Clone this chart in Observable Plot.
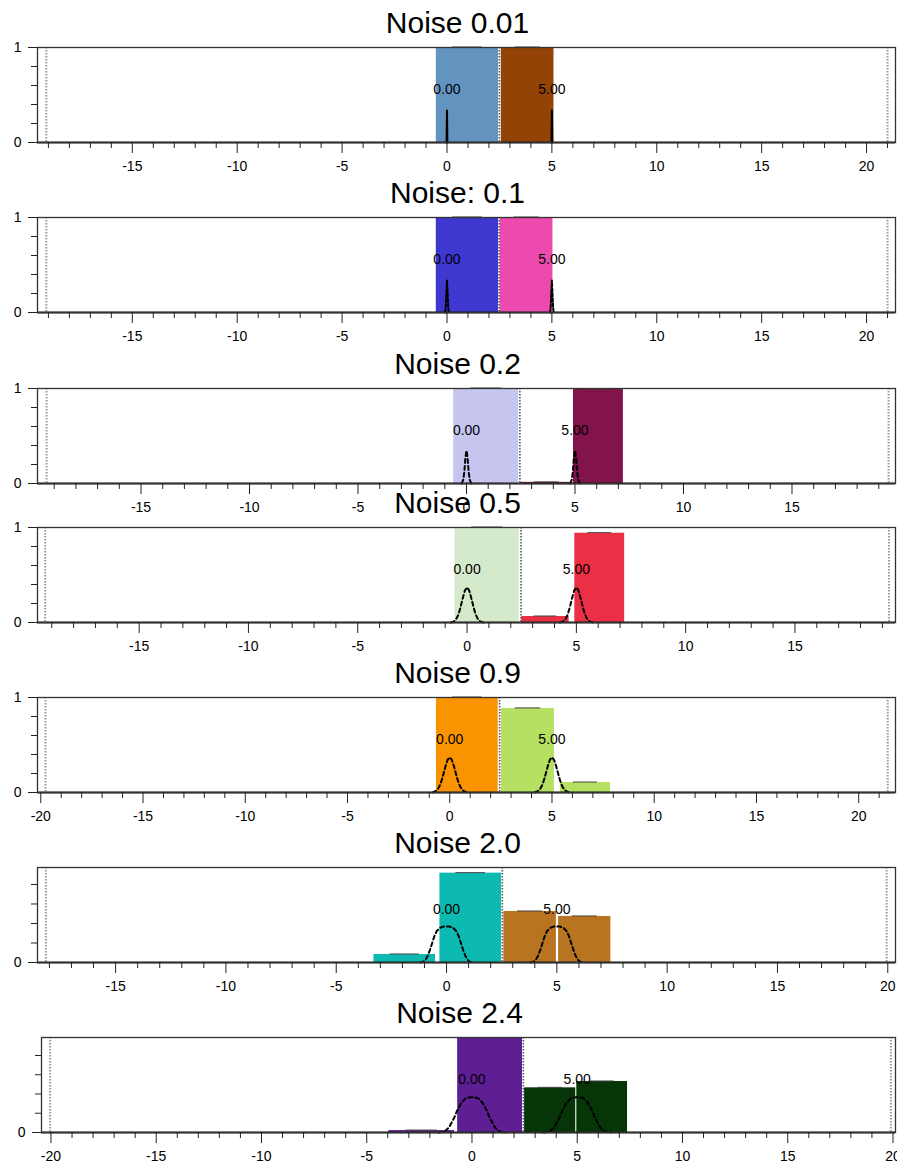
<!DOCTYPE html>
<html><head><meta charset="utf-8">
<script src="https://cdn.jsdelivr.net/npm/d3@7"></script>
<script src="https://cdn.jsdelivr.net/npm/@observablehq/plot@0.6"></script>
<style>
body{margin:0;background:#fff;}
#chart{position:relative;width:897px;height:1167px;font-family:"Liberation Sans",Arial,Helvetica,sans-serif;}
#chart svg{position:absolute;left:0;overflow:visible;background:transparent;}
</style></head><body><div id="chart"></div>
<script>
// ---------- data ----------
const titles = ["Noise 0.01", "Noise: 0.1", "Noise 0.2", "Noise 0.5", "Noise 0.9", "Noise 2.0", "Noise 2.4"];
const xDomains = [[-19.52, 21.38], [-19.52, 21.38], [-19.77, 19.77], [-19.65, 19.6], [-20.16, 21.8], [-18.54, 20.35], [-20.45, 20.12]];
const yMaxes = [1, 1, 1, 1, 1, 0.974, 0.987];
const majorXTicks = [
  [-15, -10, -5, 0, 5, 10, 15, 20],
  [-15, -10, -5, 0, 5, 10, 15, 20],
  [-15, -10, -5, 0, 5, 10, 15],
  [-15, -10, -5, 0, 5, 10, 15],
  [-20, -15, -10, -5, 0, 5, 10, 15, 20],
  [-15, -10, -5, 0, 5, 10, 15, 20],
  [-20, -15, -10, -5, 0, 5, 10, 15, 20]
];
const yMajorTicks = [[0, 1], [0, 1], [0, 1], [0, 1], [0, 1], [0], [0]];
const yMinorTicks = [0.2, 0.4, 0.6, 0.8];
const thresholds = [2.5, 2.49, 2.46, 2.47, 2.44, 2.53, 2.44];
const edgeLines = [[-19.1, 21.0], [-19.1, 21.0], [-19.35, 19.45], [-19.3, 19.3], [-19.77, 21.42], [-18.16, 19.95], [-20.04, 19.9]];

// bars: [x1, x2, fraction, class]
const bars001 = [[-0.51, 2.46, 1.0, 0], [2.59, 5.1, 1.0, 1]];
const bars01 = [[-0.51, 2.46, 1.0, 0], [2.54, 5.05, 1.0, 1]];
const bars02 = [[-0.59, 2.4, 1.0, 0], [2.5, 4.88, 0.012, 1], [4.93, 7.23, 0.99, 1]];
const bars05 = [[-0.55, 2.39, 1.0, 0], [2.5, 4.67, 0.063, 1], [4.93, 7.21, 0.94, 1]];
const bars09 = [[-0.65, 2.37, 1.0, 0], [2.53, 5.12, 0.885, 1], [5.41, 7.86, 0.105, 1]];
const bars20 = [[-3.29, -0.5, 0.082, 0], [-0.3, 2.49, 0.916, 0], [2.6, 4.98, 0.523, 1], [5.08, 7.45, 0.472, 1]];
const bars24 = [[-3.95, -0.83, 0.02, 0], [-0.68, 2.4, 0.98, 0], [2.5, 4.93, 0.464, 1], [4.98, 7.39, 0.53, 1]];
const barsByPanel = [bars001, bars01, bars02, bars05, bars09, bars20, bars24];

// half profiles of the dashed peaks: [offset from centre, height]
const peak001 = [[0, 0.337], [0.02, 0]];
const peak01 = [[0, 0.337], [0.03, 0.2], [0.06, 0.05], [0.09, 0]];
const peak02 = [[0, 0.347], [0.05, 0.27], [0.1, 0.12], [0.15, 0.04], [0.22, 0]];
const peak05 = [[0, 0.37], [0.1, 0.336], [0.2, 0.253], [0.3, 0.158], [0.4, 0.081], [0.5, 0.035], [0.6, 0.012], [0.75, 0]];
const peak09 = [[0, 0.37], [0.1, 0.345], [0.2, 0.281], [0.3, 0.2], [0.4, 0.124], [0.5, 0.067], [0.6, 0.031], [0.7, 0.013], [0.85, 0]];
const peak20 = [[0, 0.37], [0.15, 0.368], [0.3, 0.355], [0.45, 0.32], [0.55, 0.27], [0.65, 0.2], [0.75, 0.13], [0.85, 0.07], [0.95, 0.03], [1.05, 0.008], [1.2, 0]];
const peak24 = [[0, 0.366], [0.15, 0.364], [0.3, 0.355], [0.5, 0.31], [0.7, 0.23], [0.85, 0.15], [0.95, 0.11], [1.1, 0.05], [1.25, 0.02], [1.4, 0.005], [1.6, 0]];
const peaksByPanel = [peak001, peak01, peak02, peak05, peak09, peak20, peak24];
const peakCenters = [0, 5];
const peakLabels = ["0.00", "5.00"];

// ---------- styles / layout ----------
const barColors = [
  ["#6394bf", "#934305"],
  ["#3e37d0", "#ec4aae"],
  ["#c6c5f0", "#83134b"],
  ["#d4eacb", "#eb2f44"],
  ["#fa9300", "#b5e061"],
  ["#0cbab1", "#b97422"],
  ["#5e1e94", "#063607"]
];
const curveDash = ["none", "3,2", "4,3", "4,3", "4,3", "4,3", "4,3"];
const plotTops = [47, 217, 388, 527, 697, 867, 1037];
const plotLefts = [37, 37, 37, 37, 37, 37, 41];
const plotRight = 895, plotH = 95, mTop = 47, mBottom = 30, W = 897;
const font = '"Liberation Sans", Arial, Helvetica, sans-serif';

const chart = document.getElementById("chart");

titles.forEach((title, i) => {
  const [xmin, xmax] = xDomains[i];
  const barData = barsByPanel[i].map(([x1, x2, v, cls]) => ({x1, x2, v, cls}));
  const half = peaksByPanel[i];
  const profile = [...half.slice(1).reverse().map(([dx, y]) => [-dx, y]), ...half];
  const curveData = peakCenters.flatMap(c => profile.map(([dx, y]) => ({x: c + dx, y, c})));
  const minorX = d3.range(Math.ceil(xmin), Math.floor(xmax) + 1).filter(v => v % 5 !== 0);

  const svg = Plot.plot({
    width: W,
    height: mTop + plotH + mBottom,
    marginTop: mTop,
    marginBottom: mBottom,
    marginLeft: plotLefts[i],
    marginRight: W - plotRight,
    x: {domain: [xmin, xmax], axis: null},
    y: {domain: [0, yMaxes[i]], axis: null},
    color: {type: "identity"},
    style: {fontFamily: font, fontSize: "14px", background: "transparent", overflow: "visible", color: "black"},
    marks: [
      Plot.rectY(barData, {x1: "x1", x2: "x2", y: "v", fill: d => barColors[i][d.cls]}),
      Plot.ruleY(barData, {y: "v", x1: d => d.x1 + 0.26 * (d.x2 - d.x1), x2: d => d.x2 - 0.26 * (d.x2 - d.x1), stroke: "#444", strokeWidth: 1, dy: -0.5}),
      Plot.ruleX(edgeLines[i], {stroke: "#999", strokeWidth: 2, strokeDasharray: "1.5,1.5"}),
      Plot.ruleX([thresholds[i]], {stroke: "#555", strokeWidth: 1.6, strokeDasharray: "1.5,1.5"}),
      Plot.line(curveData, {x: "x", y: "y", z: "c", stroke: "black", strokeWidth: 2, strokeDasharray: curveDash[i]}),
      Plot.text(peakCenters, {x: d => d, text: (d, j) => peakLabels[j], frameAnchor: "bottom", dy: -49, fontSize: 14, fill: "black"}),
      Plot.ruleY([0], {stroke: "#222", strokeWidth: 1.8}),
      Plot.frame({stroke: "#333", strokeWidth: 1.3}),
      Plot.axisX({ticks: majorXTicks[i], tickSize: 11, tickPadding: 8, fontSize: 14, label: null, tickFormat: d => String(d), stroke: "#222", fill: "black"}),
      Plot.axisX({ticks: minorX, tickSize: 6, label: null, tickFormat: () => "", stroke: "#222"}),
      Plot.axisY({ticks: yMajorTicks[i], tickSize: 9, tickPadding: 7, fontSize: 14, label: null, tickFormat: d => String(d), stroke: "#222", fill: "black"}),
      Plot.axisY({ticks: yMinorTicks.filter(v => v <= yMaxes[i]), tickSize: 6, label: null, tickFormat: () => "", stroke: "#222"}),
      Plot.text([title], {text: d => d, frameAnchor: "top", lineAnchor: "bottom", dy: -15, dx: -9, fontSize: 30, fill: "black"})
    ]
  });
  svg.style.top = (plotTops[i] - mTop) + "px";
  svg.style.overflow = "visible";
  svg.style.background = "transparent";
  chart.append(svg);
});
</script></body></html>
